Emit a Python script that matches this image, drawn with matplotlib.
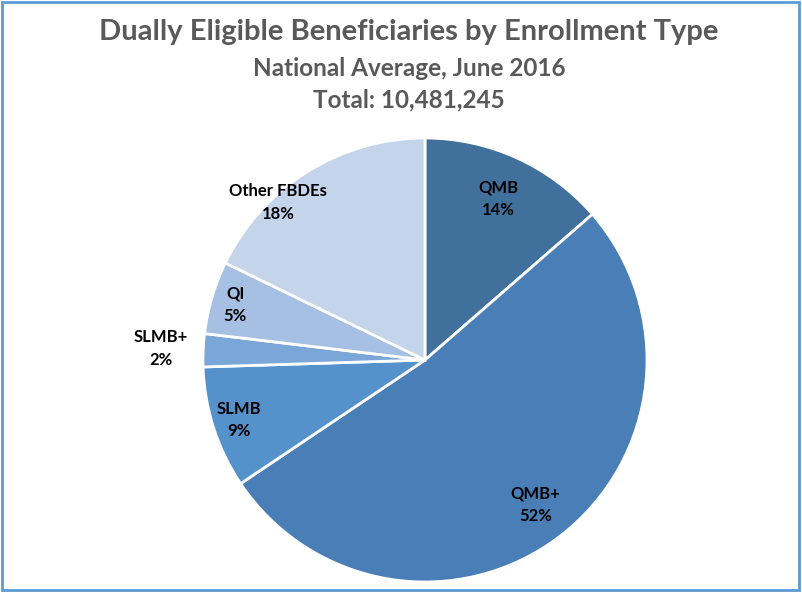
import numpy as np
import matplotlib.pyplot as plt
from matplotlib.patches import Rectangle

labels = ["QMB", "QMB+", "SLMB", "SLMB+", "QI", "Other FBDEs"]
values = [13.6, 52.0, 8.9, 2.4, 5.3, 17.8]
colors = ["#41709C", "#4A7EB6", "#5592CC", "#7AA7D8", "#A5C0E2", "#C3D4EB"]
# label placement (fraction of radius, angle shift in degrees)
label_r = [0.80, 0.82, 0.88, 1.19, 0.89, 0.97]
label_shift = [0, 0, 0, 0, 0, 11]

plt.rcParams['font.family'] = ['Lato', 'DejaVu Sans']

fig = plt.figure(figsize=(8.02, 5.92), dpi=100)
fig.patches.append(Rectangle((0.002, 0.003), 0.994, 0.994, transform=fig.transFigure,
                             fill=False, edgecolor="#5B9BD5", linewidth=2))

fig.text(0.51, 0.946, "Dually Eligible Beneficiaries by Enrollment Type", ha="center", va="center",
         fontsize=21, fontweight="bold", color="#595959")
fig.text(0.51, 0.885, "National Average, June 2016", ha="center", va="center",
         fontsize=17.5, fontweight="bold", color="#595959")
fig.text(0.51, 0.831, "Total: 10,481,245", ha="center", va="center",
         fontsize=17.5, fontweight="bold", color="#595959")

ax = fig.add_axes([0.2531, 0.0169, 0.5536, 0.75])
wedges, _ = ax.pie(values, colors=colors, startangle=90, counterclock=False,
                   wedgeprops=dict(edgecolor="white", linewidth=2))
ax.set_xlim(-1, 1)
ax.set_ylim(-1, 1)
ax.set_aspect("equal")

for w, lab, v, r, s in zip(wedges, labels, values, label_r, label_shift):
    ang = np.deg2rad((w.theta1 + w.theta2) / 2 + s)
    ax.text(r * np.cos(ang), r * np.sin(ang), f"{lab}\n{round(v):d}%", ha="center", va="center",
            fontsize=12, fontweight="bold", color="black", linespacing=1.5)

fig.savefig("out.png", dpi=100)
